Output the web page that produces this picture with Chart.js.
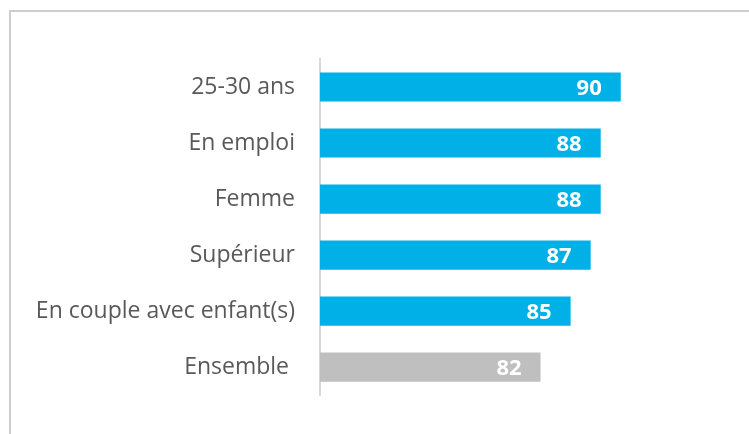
<!DOCTYPE html>
<html>
<head>
<meta charset="utf-8">
<script src="https://cdn.jsdelivr.net/npm/chart.js@4"></script>
<style>
  html, body { margin: 0; padding: 0; background: #fff; }
  #wrap { position: relative; width: 749px; height: 434px; overflow: hidden; }
  #cadre { position: absolute; left: 9px; top: 10px; width: 800px; height: 500px;
           border-top: 2px solid #cdcdcd; border-left: 2px solid #cdcdcd; }
  canvas { position: absolute; left: 0; top: 0; }
</style>
</head>
<body>
<div id="wrap">
  <div id="cadre"></div>
  <canvas id="graphique" width="749" height="434"></canvas>
</div>
<script>
// données
const categories = ["25-30 ans", "En emploi", "Femme", "Supérieur", "En couple avec enfant(s)", "Ensemble "];
const valeurs = [90, 88, 88, 87, 85, 82];
const couleurs = ["#00b0e6", "#00b0e6", "#00b0e6", "#00b0e6", "#00b0e6", "#bfbfbf"];

// étiquettes blanches dans les barres
const etiquettes = {
    id: "etiquettes",
    afterDatasetsDraw(chart) {
        const ctx = chart.ctx;
        const meta = chart.getDatasetMeta(0);
        ctx.save();
        ctx.font = "bold 22px 'Open Sans'";
        ctx.fillStyle = "#ffffff";
        ctx.textAlign = "right";
        ctx.textBaseline = "middle";
        meta.data.forEach((bar, i) => {
            ctx.fillText(String(valeurs[i]), bar.x - 19, bar.y + 2);
        });
        ctx.restore();
    }
};

const ctx = document.getElementById("graphique").getContext("2d");
new Chart(ctx, {
    type: "bar",
    data: {
        labels: categories,
        datasets: [{
            data: valeurs,
            backgroundColor: couleurs,
            borderWidth: 0,
            categoryPercentage: 1,
            barPercentage: 0.52
        }]
    },
    options: {
        indexAxis: "y",
        responsive: false,
        animation: false,
        layout: { padding: { left: 0, top: 59, bottom: 36, right: 28 } },
        plugins: { legend: { display: false }, tooltip: { enabled: false } },
        scales: {
            x: { display: false, min: 60, max: 100 },
            y: {
                afterFit: s => { s.width = 320; },
                grid: { display: false, drawTicks: false },
                border: { display: true, color: "#d9d9d9", width: 2 },
                ticks: {
                    padding: 25,
                    color: "#595959",
                    font: { family: "'Open Sans'", size: 23 }
                }
            }
        }
    },
    plugins: [etiquettes]
});
</script>
</body>
</html>
